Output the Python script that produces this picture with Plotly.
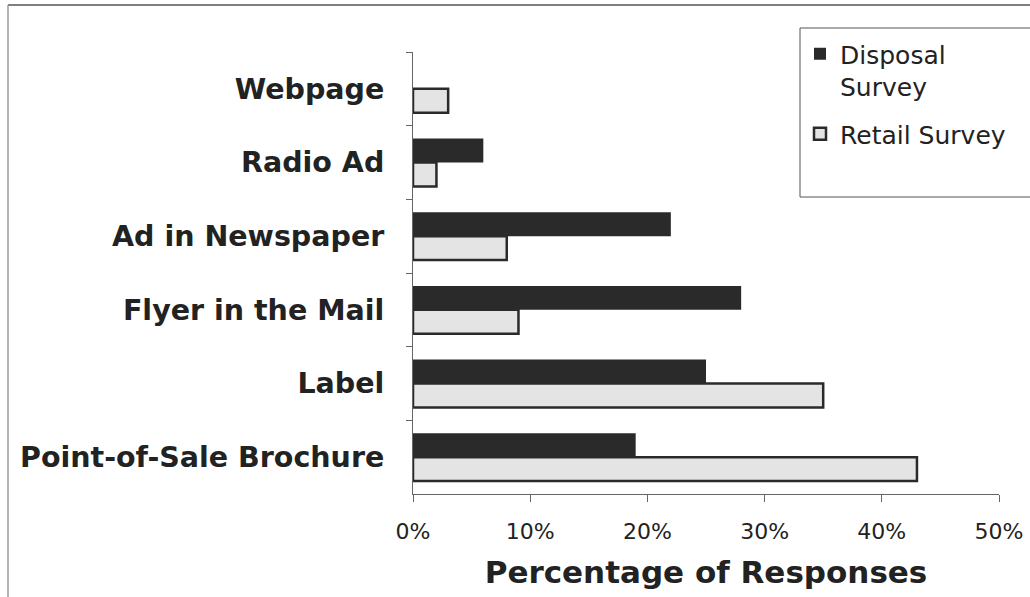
import plotly.graph_objects as go

categories = ["Webpage", "Radio Ad", "Ad in Newspaper", "Flyer in the Mail", "Label", "Point-of-Sale Brochure"]
disposal = [0, 6, 22, 28, 25, 19]
retail = [3, 2, 8, 9, 35, 43]
x_ticks = [0, 10, 20, 30, 40, 50]
x_labels = ["0%", "10%", "20%", "30%", "40%", "50%"]

FONT = "DejaVu Sans, Liberation Sans, sans-serif"
TXT = "#222222"

fig = go.Figure()
fig.add_trace(go.Bar(
    y=categories, x=disposal, orientation="h", name="Disposal<br>Survey",
    legendgroup="d",
    marker=dict(color="#2a2a2a", line=dict(color="#2a2a2a", width=0)),
))
fig.add_trace(go.Bar(
    y=categories, x=retail, orientation="h", name="Retail Survey",
    legendgroup="r",
    marker=dict(color="#e4e4e4", line=dict(color="#2a2a2a", width=2.5)),
))

L, T, R, B = 413, 52, 31, 103
W, H = 1030, 597
pw = W - L - R
ph = H - T - B


def px(x):
    return (x - L) / pw


def py(y):
    return (H - B - y) / ph


fig.update_layout(
    width=W, height=H,
    margin=dict(l=L, r=R, t=T, b=B, autoexpand=False),
    paper_bgcolor="white", plot_bgcolor="white",
    barmode="group", bargap=0.35, bargroupgap=0.0,
    font=dict(family=FONT, color=TXT),
    showlegend=True,
    legend=dict(
        xref="container", yref="container",
        x=800 / W, y=1 - 31 / H, xanchor="left", yanchor="top",
        font=dict(size=25, family=FONT, color=TXT),
        bgcolor="rgba(0,0,0,0)", borderwidth=0,
        traceorder="grouped", tracegroupgap=12, valign="top",
        itemwidth=30,
    ),
    xaxis=dict(
        range=[0, 50], tickvals=x_ticks, ticktext=x_labels,
        showgrid=False, zeroline=False,
        showline=True, linecolor="#666666", linewidth=1,
        ticks="outside", ticklen=7, tickcolor="#666666",
        tickfont=dict(size=22, family=FONT, color=TXT),
        ticklabelstandoff=11,
        title=dict(text="<b>Percentage of Responses</b>",
                   font=dict(size=31, family=FONT, color=TXT), standoff=17),
    ),
    yaxis=dict(
        autorange="reversed", showgrid=False, zeroline=False,
        showline=True, linecolor="#666666", linewidth=1,
        ticks="outside", ticklen=6, tickcolor="#666666", tickson="boundaries",
        tickfont=dict(size=28.5, family=FONT, color=TXT, weight="bold"),
        ticklabelstandoff=22,
    ),
    shapes=[
        dict(type="rect", xref="paper", yref="paper",
             x0=px(800), x1=px(1034), y0=py(197), y1=py(28),
             line=dict(color="#555555", width=1), fillcolor="rgba(0,0,0,0)", layer="below"),
        dict(type="line", xref="paper", yref="paper",
             x0=px(8), x1=px(1034), y0=py(5), y1=py(5),
             line=dict(color="#555555", width=1.5)),
        dict(type="line", xref="paper", yref="paper",
             x0=px(8), x1=px(8), y0=py(5), y1=py(600),
             line=dict(color="#999999", width=1.5)),
    ],
)

fig.write_html("out.html")
